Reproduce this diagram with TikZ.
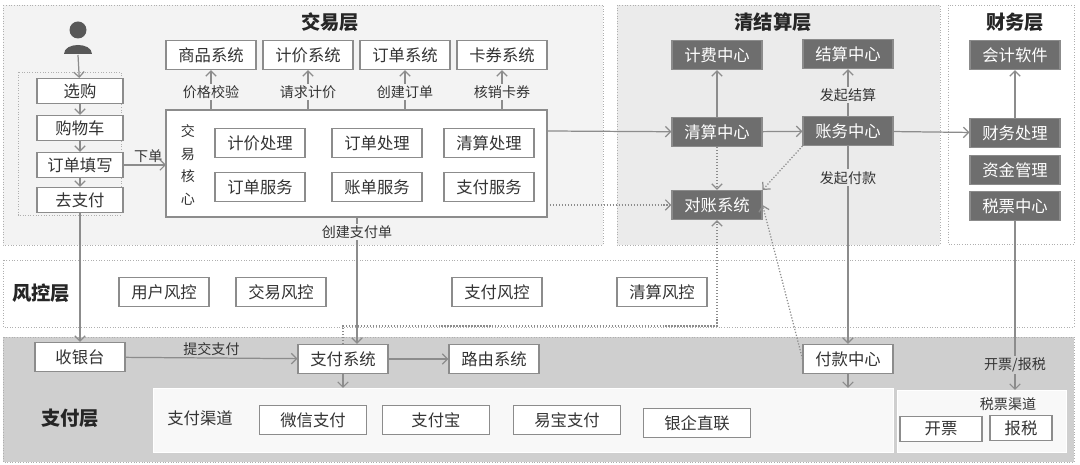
\documentclass[tikz,border=0pt]{standalone}
\usepackage{fontspec}
\setmainfont{Noto Sans CJK SC}
\usetikzlibrary{positioning, arrows.meta, calc}
\definecolor{LineColor}{RGB}{140,140,140}
\definecolor{DarkBox}{RGB}{110,110,110}
\definecolor{TradeBg}{RGB}{243,243,243}
\definecolor{ClearBg}{RGB}{235,235,235}
\definecolor{PayBg}{RGB}{207,207,207}
\definecolor{ChanBg}{RGB}{248,248,248}
\tikzstyle{layer} = [draw=LineColor!70, densely dotted, line width=0.5pt]
\tikzstyle{box} = [rectangle, draw=LineColor, fill=white, line width=0.6pt, minimum width=1.8cm, minimum height=0.58cm, inner sep=1pt, font=\fontsize{9.3}{11}\selectfont, text=black!80]
\tikzstyle{dbox} = [box, draw=DarkBox!80, fill=DarkBox, text=white]
\tikzstyle{title} = [font=\fontsize{11}{13}\bfseries\selectfont, text=black!85]
\tikzstyle{lbl} = [font=\fontsize{8}{9.5}\selectfont, text=black!80, inner sep=1pt]
\tikzstyle{arrow} = [LineColor, line width=0.7pt, -{Straight Barb[length=3pt,width=6pt]}]
\tikzstyle{dotarrow} = [arrow, densely dotted]
\begin{document}
\begin{tikzpicture}[x=0.02cm, y=-0.02cm]
                \useasboundingbox (0,0) rectangle (1080,465);
                % Layers
                \draw[layer, fill=TradeBg] (3,5) rectangle (603,245);
                \draw[layer, fill=ClearBg] (617,5) rectangle (940,245);
                \draw[layer, fill=white] (948,5) rectangle (1074,244);
                \draw[layer, fill=white] (3,260) rectangle (1074,327);
                \draw[layer, fill=PayBg] (3,337) rectangle (1074,462);
                \draw[layer, fill=ChanBg, solid, draw=white] (153,388) rectangle (893,452);
                \draw[layer, fill=ChanBg, solid, draw=white] (897,390) rectangle (1066,452);
                \node[title] (tradeT) at (330,22) {交易层};
                \node[title] (clearT) at (773,22) {清结算层};
                \node[title] (finT) at (1015,22) {财务层};
                \node[title] (riskT) at (41,293) {风控层};
                \node[title] (payT) at (70,418) {支付层};
                
                % User flow
                \fill[DarkBox!80!black] (78,30) circle (8.5);
                \fill[DarkBox!80!black] (64,54) .. controls (64,42) and (92,42) .. (92,54) -- cycle;
                \coordinate (user) at (78,55);
                \draw[layer] (18,72) rectangle (121,215);
                \node[box, minimum width=1.72cm, minimum height=0.5cm] (pick) at (80,91) {选购};
                \node[box, minimum width=1.72cm, minimum height=0.5cm] (cart) at (80,128) {购物车};
                \node[box, minimum width=1.72cm, minimum height=0.5cm] (fill) at (80,165) {订单填写};
                \node[box, minimum width=1.72cm, minimum height=0.5cm] (topay) at (80,200) {去支付};
                
                % Trade core
                \draw[LineColor, line width=0.6pt, fill=white] (166,110) rectangle (547,217);
                \coordinate (coreW) at (166,163);
                \coordinate (coreN1) at (211,110);
                \coordinate (coreN2) at (308,110);
                \coordinate (coreN3) at (405,110);
                \coordinate (coreN4) at (502,110);
                \coordinate (coreE) at (547,131);
                \coordinate (coreE2) at (547,205);
                \coordinate (coreS) at (357,217);
                \node[lbl, align=center, font=\fontsize{8}{13}\selectfont] (coreT) at (188,165) {交\\易\\核\\心};
                \node[box] (priceP) at (260,143) {计价处理};
                \node[box] (orderP) at (377,143) {订单处理};
                \node[box] (clearP) at (489,143) {清算处理};
                \node[box] (orderS) at (260,187) {订单服务};
                \node[box] (billS) at (377,187) {账单服务};
                \node[box] (payS) at (489,187) {支付服务};
                
                % Top systems
                \node[box] (goods) at (211,55) {商品系统};
                \node[box] (price) at (308,55) {计价系统};
                \node[box] (order) at (405,55) {订单系统};
                \node[box] (coupon) at (502,55) {卡券系统};
                
                % Clearing and finance
                \node[dbox] (fee) at (717,55) {计费中心};
                \node[dbox] (settle) at (848,54) {结算中心};
                \node[dbox] (clear) at (717,132) {清算中心};
                \node[dbox] (acct) at (848,131) {账务中心};
                \node[dbox] (recon) at (717,205) {对账系统};
                \node[dbox] (soft) at (1015,55) {会计软件};
                \node[dbox] (fproc) at (1015,133) {财务处理};
                \node[dbox] (fund) at (1015,170) {资金管理};
                \node[dbox] (tax) at (1015,206) {税票中心};
                
                % Risk
                \node[box] (urisk) at (164,292) {用户风控};
                \node[box] (trisk) at (281,292) {交易风控};
                \node[box] (prisk) at (497,292) {支付风控};
                \node[box] (crisk) at (662,292) {清算风控};
                
                % Pay
                \node[box] (cashier) at (80,357) {收银台};
                \node[box] (paysys) at (343,359) {支付系统};
                \node[box] (route) at (494,359) {路由系统};
                \node[box] (payout) at (848,359) {付款中心};
                \node[lbl, font=\fontsize{9.3}{11}\selectfont] (chanT) at (200,418) {支付渠道};
                \node[box, minimum width=2.15cm] (wx) at (313,420) {微信支付};
                \node[box, minimum width=2.15cm] (ali) at (436,420) {支付宝};
                \node[box, minimum width=2.15cm] (yb) at (567,420) {易宝支付};
                \node[box, minimum width=2.15cm] (bank) at (697,423) {银企直联};
                \node[lbl] (taxT) at (1008,404) {税票渠道};
                \node[box, minimum width=1.64cm, minimum height=0.5cm] (inv) at (941,429) {开票};
                \node[box, minimum width=1.24cm, minimum height=0.5cm] (rep) at (1021,428) {报税};
                \coordinate (chanTop) at (343,388);
                \coordinate (chanTop2) at (848,388);
                \coordinate (taxTop) at (1015,390);
                
                % Connections
                \draw[arrow] (user) -- (pick);
                \draw[arrow] (pick) -- (cart);
                \draw[arrow] (cart) -- (fill);
                \draw[arrow] (fill) -- (topay);
                \draw[arrow] (fill) -- (fill -| coreW) node[lbl, midway, above, xshift=2pt] {下单};
                \draw[arrow] (coreN1) -- (goods) node[lbl, pos=0.45, fill=TradeBg] {价格校验};
                \draw[arrow] (coreN2) -- (price) node[lbl, pos=0.45, fill=TradeBg] {请求计价};
                \draw[arrow] (coreN3) -- (order) node[lbl, pos=0.45, fill=TradeBg] {创建订单};
                \draw[arrow] (coreN4) -- (coupon) node[lbl, pos=0.45, fill=TradeBg] {核销卡券};
                \draw[arrow] (coreE) -- (clear);
                \draw[dotarrow] (coreE2) -- (recon);
                \draw[arrow] (coreS) -- (paysys.north -| coreS) node[lbl, pos=0.12, fill=TradeBg] {创建支付单};
                \draw[arrow] (topay) -- (cashier);
                \draw[arrow] (cashier) -- (paysys) node[lbl, midway, above] {提交支付};
                \draw[arrow] (paysys) -- (route);
                \draw[arrow] (paysys) -- (chanTop);
                \draw[arrow] (clear) -- (fee);
                \draw[arrow] (clear) -- (acct);
                \draw[arrow] (acct) -- (fproc);
                \draw[arrow] (fproc) -- (soft);
                \draw[dotarrow] (clear) -- (recon);
                \draw[dotarrow] (acct.south west) -- (recon.north east);
                \draw[arrow] (acct) -- (settle) node[lbl, pos=0.45, fill=ClearBg] {发起结算};
                \draw[arrow] (acct) -- (payout) node[lbl, pos=0.16, fill=ClearBg] {发起付款};
                \draw[arrow] (payout) -- (chanTop2);
                \draw[dotarrow] (payout.west) -- (recon.east);
                \draw[dotarrow] (paysys.north) -- ++(0,-18) -| (recon.south);
                \draw[arrow] (tax) -- (taxTop) node[lbl, pos=0.85, fill=PayBg] {开票/报税};
            \end{tikzpicture}
\end{document}
